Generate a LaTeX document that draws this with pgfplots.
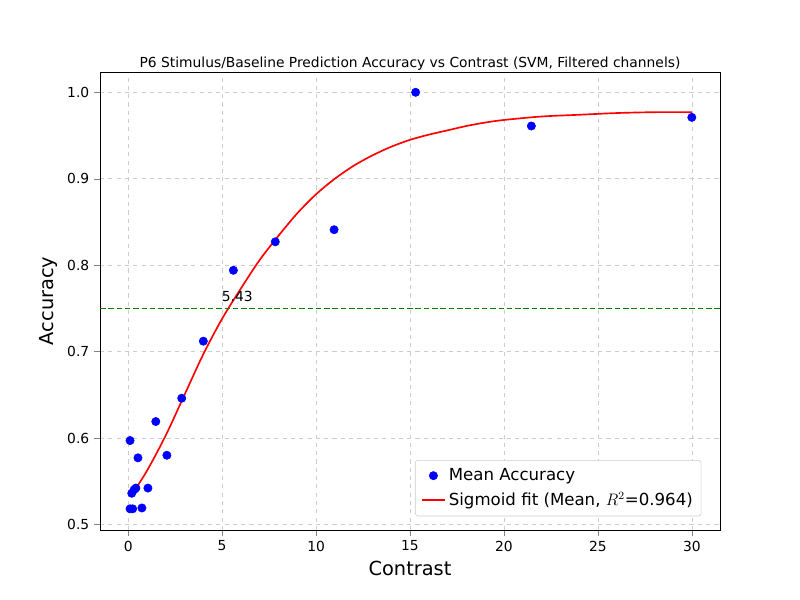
\documentclass[border=0pt]{standalone}
\usepackage{pgfplots}
\pgfplotsset{compat=1.18}
\usepackage{fontspec}
\setmainfont{DejaVu Sans}
\begin{document}
\begin{tikzpicture}
\path[use as bounding box] (0,0) rectangle (8in,6in);
\begin{axis}[at={(1.0in,0.7in)}, anchor=south west, scale only axis,
 width=6.2in, height=4.58in,
 xmin=-1.5, xmax=31.5, ymin=0.4935, ymax=1.0235,
 xtick={0,5,...,30}, ytick={0.5,0.6,...,1.0},
 yticklabel style={/pgf/number format/fixed,/pgf/number format/precision=1,/pgf/number format/fixed zerofill},
 /pgf/number format/assume math mode=true,
 tick label style={font=\fontsize{10}{12}\selectfont},
 grid=major, grid style={dashed,gray!40},
 tick align=outside, xtick pos=bottom, ytick pos=left,
 xlabel={Contrast}, ylabel={Accuracy},
 label style={font=\fontsize{14}{16}\selectfont},
 title={P6 Stimulus/Baseline Prediction Accuracy vs Contrast (SVM, Filtered channels)},
 title style={font=\fontsize{10}{12}\selectfont, yshift=-8pt},
 legend pos=south east, legend cell align=left,
 legend style={font=\fontsize{12}{14}\selectfont, rounded corners=2pt, draw=gray!40, inner sep=4pt, row sep=3pt},
]
\addplot[only marks, mark=*, mark size=3pt, blue] coordinates {
(0.1,0.597)(1.47,0.619)(0.52,0.577)(2.06,0.580)(0.41,0.542)(0.31,0.540)(1.05,0.542)
(0.19,0.536)(0.1,0.518)(0.24,0.518)(0.73,0.519)(2.85,0.646)(4.0,0.712)(5.6,0.794)
(7.83,0.827)(10.96,0.841)(15.3,1.0)(21.46,0.961)(30,0.971)};
\addlegendentry{Mean Accuracy}
\addplot[red, line width=1.2pt, smooth] coordinates {
(0.2,0.535)(1,0.562)(2,0.603)(3,0.650)(4,0.697)(5,0.738)(6,0.773)(7,0.806)(8,0.834)
(9,0.860)(10,0.882)(11,0.900)(12,0.915)(13,0.927)(14,0.937)(15,0.945)(16,0.951)(17,0.956)
(18,0.961)(19,0.965)(20,0.968)(22,0.972)(24,0.974)(26,0.976)(28,0.977)(30,0.977)};
\addlegendentry{Sigmoid fit (Mean, $R^2$=0.964)}
\addplot[green!50!black, line width=1.2pt, dash pattern=on 4pt off 2pt, forget plot] coordinates {(-1.5,0.75)(31.5,0.75)};
\node[anchor=south west, font=\fontsize{10}{12}\selectfont, inner sep=1pt] at (axis cs:4.9,0.756) {5.43};
\end{axis}
\end{tikzpicture}
\end{document}
